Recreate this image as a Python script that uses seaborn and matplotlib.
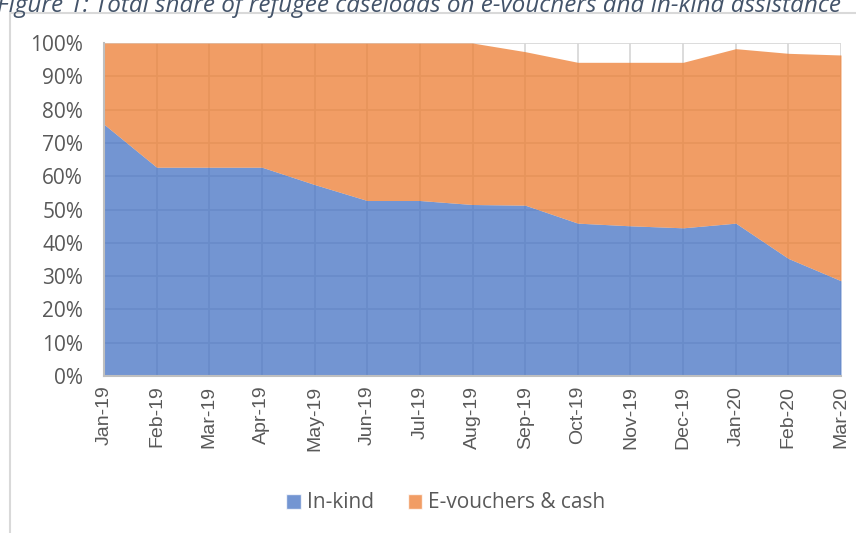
import numpy as np
import pandas as pd
import matplotlib
matplotlib.use("Agg")
import matplotlib.pyplot as plt
from matplotlib.patches import Patch, Rectangle
import seaborn as sns

months = ["Jan-19", "Feb-19", "Mar-19", "Apr-19", "May-19", "Jun-19", "Jul-19",
          "Aug-19", "Sep-19", "Oct-19", "Nov-19", "Dec-19", "Jan-20", "Feb-20", "Mar-20"]
in_kind = [75.6, 62.7, 62.7, 62.7, 57.5, 52.7, 52.7, 51.5, 51.3, 45.9, 45.1, 44.5, 45.9, 35.3, 28.6]
total = [100, 100, 100, 100, 100, 100, 100, 100, 97.4, 94.2, 94.2, 94.2, 98.3, 96.9, 96.4]
e_vouchers = [t - k for t, k in zip(total, in_kind)]
series_names = ["In-kind", "E-vouchers & cash"]
title = "Figure 1: Total share of refugee caseloads on e-vouchers and in-kind assistance"

df = pd.DataFrame({"month": months, "In-kind": in_kind, "E-vouchers & cash": e_vouchers})

sns.set_theme(style="white")
plt.rcParams["font.family"] = ["Open Sans", "DejaVu Sans"]

blue = "#4472C4"
orange = "#ED7D31"
text_col = "#595959"

fig = plt.figure(figsize=(8.56, 5.33), dpi=100)
ax = fig.add_axes([104 / 856, 1 - 376 / 533, (841 - 104) / 856, (376 - 43) / 533])

x = np.arange(len(df))
ax.stackplot(x, df["In-kind"], df["E-vouchers & cash"], colors=[blue, orange],
             alpha=0.75, linewidth=0, zorder=2)

ax.set_xlim(0, len(df) - 1)
ax.set_ylim(0, 100)
ax.set_yticks(np.arange(0, 101, 10))
ax.set_yticklabels([f"{v}%" for v in range(0, 101, 10)], fontsize=15, color=text_col)
ax.set_xticks(x)
ax.set_xticklabels(df["month"], rotation=90, fontsize=14, color=text_col,
                   family=["Liberation Sans", "DejaVu Sans"])
ax.tick_params(axis="x", length=0, pad=7)
ax.tick_params(axis="y", length=0, pad=15)
ax.grid(True, color="#D9D9D9", linewidth=1.3, zorder=1)
ax.set_axisbelow(True)
for side in ["top", "right"]:
    ax.spines[side].set_visible(False)
for side in ["left", "bottom"]:
    ax.spines[side].set_color("#BFBFBF")
    ax.spines[side].set_linewidth(1.5)
    ax.spines[side].set_zorder(3)

handles = [Patch(facecolor=blue, alpha=0.75, label=series_names[0]),
           Patch(facecolor=orange, alpha=0.75, label=series_names[1])]
fig.legend(handles=handles, loc="center", bbox_to_anchor=(446 / 856, 1 - 503 / 533),
           ncol=2, frameon=False, fontsize=15, labelcolor=text_col,
           handlelength=0.7, handleheight=0.7, handletextpad=0.3, columnspacing=1.6)

fig.patches.append(Rectangle((10 / 856, -0.1), 1.2, 1 - 13 / 533 + 0.1, transform=fig.transFigure,
                             fill=False, edgecolor="#D9D9D9", linewidth=1.5))

fig.text(-0.003, 1 - 12 / 533, title, fontsize=17.5, style="italic", color="#44546A",
         va="baseline", ha="left")

fig.savefig("out.png", dpi=100)
